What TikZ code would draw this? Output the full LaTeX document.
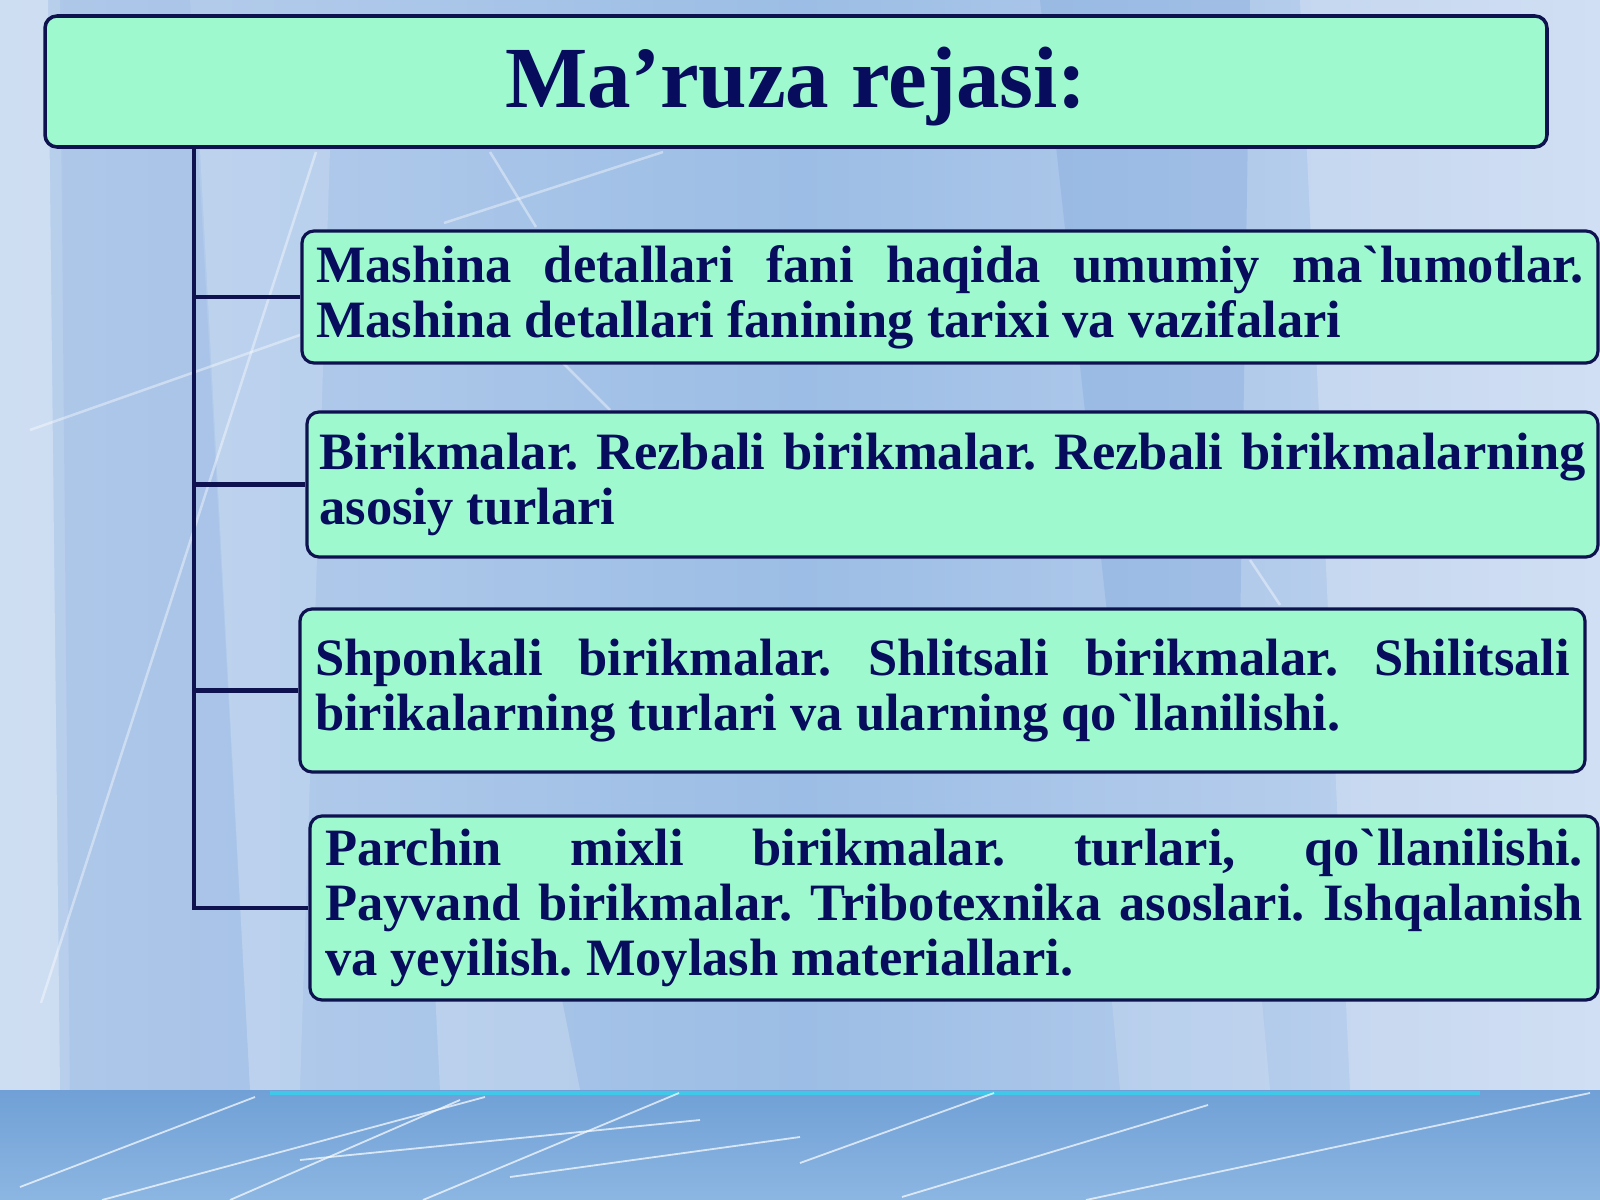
\documentclass[tikz,border=0pt]{standalone}
\usepackage{fontspec}
\setmainfont{Liberation Serif}[Ligatures=TeXOff]
\definecolor{navy}{RGB}{14,18,78}
\definecolor{ink}{RGB}{8,12,92}
\definecolor{mint}{RGB}{158,250,206}
\definecolor{bgA}{RGB}{186,208,237}
\definecolor{bgB}{RGB}{156,189,229}
\definecolor{bgC}{RGB}{196,214,240}
\definecolor{bgD}{RGB}{120,162,218}
\definecolor{bandtop}{RGB}{112,160,214}
\definecolor{bandbot}{RGB}{140,182,226}
\definecolor{cyanline}{RGB}{64,200,232}
\newcommand\bodyfont{\fontsize{14.94pt}{15.65pt}\selectfont\bfseries\frenchspacing}
\newcommand\jline[2]{\makebox[#1][s]{\spaceskip=1.31mm plus 30mm minus 0.3mm\relax #2}}
\tikzset{
  titlebox/.style={draw=navy, line width=1pt, fill=mint, rounded corners=1.2mm,
    font=\fontsize{24.8pt}{30pt}\selectfont\bfseries, text=ink,
    text height=6mm, text depth=0.7mm, inner sep=0pt},
  itembox/.style={draw=navy, line width=0.9pt, fill=mint, rounded corners=1.2mm,
    font=\bodyfont, text=ink, align=left, inner sep=0pt,
    execute at begin node={\spaceskip=1.31mm plus 0.6mm minus 0.3mm\relax}},
  conn/.style={draw=navy, line width=1.4pt},
  streak/.style={draw=white, line width=0.25mm, opacity=0.4},
  scratch/.style={draw=white, line width=0.18mm, opacity=0.7},
}
\begin{document}
\begin{tikzpicture}[x=0.1mm,y=-0.1mm]
\useasboundingbox (0,0) rectangle (1600,1200);
% ---------- background ----------
\shade[left color=bgA, right color=bgC, middle color=bgB] (0,0) rectangle (1600,1090);
\fill[white, opacity=0.3] (0,0) -- (48,0) -- (60,1090) -- (0,1090) -- cycle;
\fill[white, opacity=0.15] (200,150) -- (330,150) -- (300,1090) -- (250,1090) -- cycle;
\fill[bgD, opacity=0.3] (1040,0) -- (1250,0) -- (1240,640) -- (1110,640) -- cycle;
\fill[bgD, opacity=0.15] (60,0) -- (190,0) -- (250,1090) -- (70,1090) -- cycle;
\fill[white, opacity=0.22] (1300,0) -- (1600,0) -- (1600,1090) -- (1350,1090) -- cycle;
\fill[white, opacity=0.2] (435,990) -- (560,990) -- (580,1090) -- (440,1090) -- cycle;
\fill[white, opacity=0.15] (1110,980) -- (1260,980) -- (1270,1090) -- (1120,1090) -- cycle;
\draw[streak] (444,223) -- (663,152);
\draw[streak] (490,152) -- (536,227);
\draw[streak] (316,152) -- (41,1003);
\draw[streak] (30,430) -- (300,335);
\draw[streak] (560,360) -- (610,410);
\draw[streak] (1250,560) -- (1280,605);
% ---------- bottom band ----------
\shade[top color=bandtop, bottom color=bandbot] (0,1090) rectangle (1600,1200);
\draw[cyanline, line width=0.45mm] (270,1093) -- (1480,1093);
\draw[scratch] (20,1187) -- (255,1097);
\draw[scratch] (102,1200) -- (485,1097);
\draw[scratch] (230,1200) -- (460,1100);
\draw[scratch] (423,1200) -- (679,1093);
\draw[scratch] (510,1177) -- (800,1137);
\draw[scratch] (800,1163) -- (994,1093);
\draw[scratch] (902,1197) -- (1208,1105);
\draw[scratch] (1086,1200) -- (1590,1093);
\draw[scratch] (300,1160) -- (700,1120);
% ---------- nodes ----------
\node[titlebox, minimum width=150.2mm, minimum height=13.1mm] (title) at (796,81.5) {Ma’ruza rejasi:};
\node[itembox, minimum width=129.6mm, minimum height=13.2mm, text width=126.8mm] (b1) at (950,297)
  {\jline{126.8mm}{Mashina detallari fani haqida umumiy ma`lumotlar.}\\Mashina detallari fanining tarixi va vazifalari};
\node[itembox, minimum width=129.1mm, minimum height=14.5mm, text width=126.6mm] (b2) at (952.5,484.5)
  {\jline{126.6mm}{Birikmalar. Rezbali birikmalar. Rezbali birikmalarning}\\asosiy turlari};
\node[itembox, minimum width=128.5mm, minimum height=16.3mm, text width=125.5mm] (b3) at (942.5,690.5)
  {\jline{125.5mm}{Shponkali birikmalar. Shlitsali birikmalar. Shilitsali}\\birikalarning turlari va ularning qo`llanilishi.};
\node[itembox, minimum width=128.8mm, minimum height=18.4mm, text width=125.8mm] (b4) at (954,908)
  {\jline{125.8mm}{Parchin mixli birikmalar. turlari, qo`llanilishi.}\\\jline{125.8mm}{Payvand birikmalar. Tribotexnika asoslari. Ishqalanish}\\va yeyilish. Moylash materiallari.};
% ---------- connectors ----------
\coordinate (trunk) at (194,0);
\draw[conn] (title.south -| trunk) |- (b4.west);
\foreach \b in {b1,b2,b3} \draw[conn] (trunk |- \b.west) -- (\b.west);
\end{tikzpicture}
\end{document}
